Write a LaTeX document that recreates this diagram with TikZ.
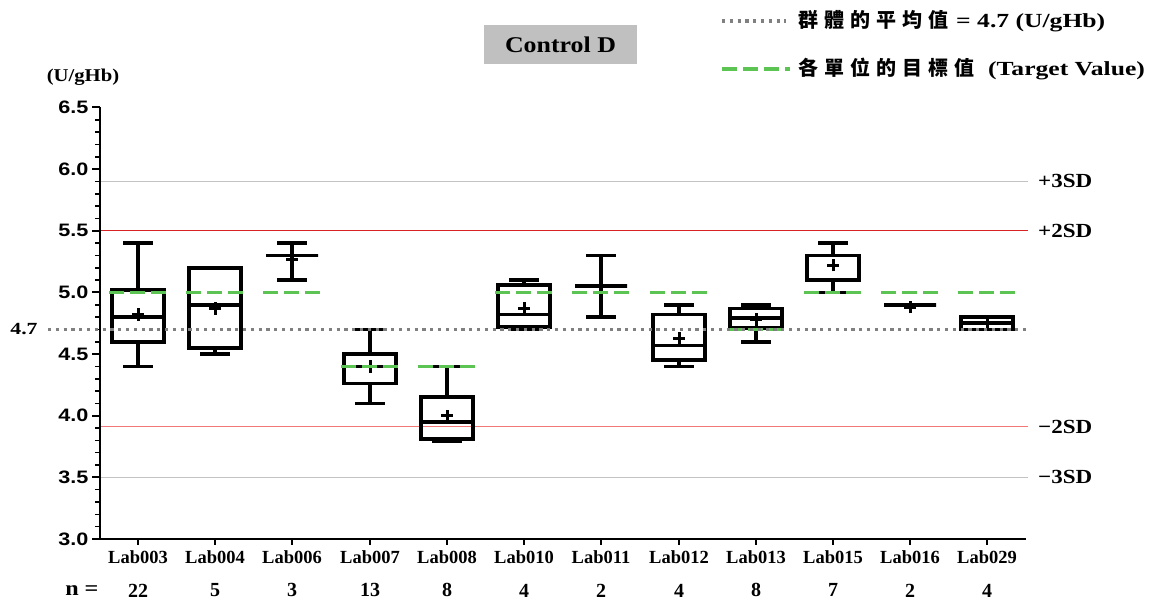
\documentclass[tikz,border=0pt]{standalone}
\usepackage{fontspec}
\setmainfont{Liberation Serif}
\setsansfont{Liberation Sans}
\newfontfamily\cjk[LetterSpace=30]{Noto Sans CJK TC}
\newfontfamily\stretchrm[FakeStretch=1.15]{Liberation Serif}
\newfontfamily\legendrm[FakeStretch=1.28]{Liberation Serif}
\newfontfamily\stretchsf[FakeStretch=1.2]{Liberation Sans}
\definecolor{targetgreen}{RGB}{92,196,82}
\definecolor{meangray}{RGB}{128,128,128}
\definecolor{sdgray}{RGB}{195,195,195}
\definecolor{sdred}{RGB}{215,35,35}
\definecolor{sdpink}{RGB}{240,120,120}
\definecolor{titlegray}{RGB}{192,192,192}
\begin{document}
\begin{tikzpicture}[x=1pt,y=1pt,
  axisline/.style={line width=2.6pt},
  boxline/.style={line width=3.6pt},
  targetline/.style={targetgreen,line width=3.4pt,dash pattern=on 15pt off 6pt},
  meanline/.style={meangray,line width=3.2pt,dash pattern=on 3.2pt off 4.6pt},
  sdline/.style={line width=0.9pt},
  ticklabel/.style={font=\stretchsf\bfseries\fontsize{18}{18}\selectfont,anchor=east,inner sep=0pt},
  lablabel/.style={font=\bfseries\fontsize{18.5}{18.5}\selectfont,inner sep=0pt},
  nlabel/.style={font=\bfseries\fontsize{20}{20}\selectfont,inner sep=0pt},
  sdlabel/.style={font=\stretchrm\bfseries\fontsize{20}{20}\selectfont,anchor=west,inner sep=0pt},
  legendtext/.style={font=\legendrm\bfseries\fontsize{20}{20}\selectfont,anchor=west,inner sep=0pt},
  titlebox/.style={fill=titlegray,minimum width=153pt,minimum height=39pt,inner sep=0pt,
    font=\stretchrm\bfseries\fontsize{22.5}{22.5}\selectfont}]
   \newcommand{\meanMark}[2]{
        \draw[line width=3pt] (#1-6,#2) -- (#1+6,#2) (#1,#2-0.05) -- (#1,#2+0.05);
    }
\useasboundingbox (0,0) rectangle (1158,600);

% title and legend
\node[titlebox] (title) at (560.5,555.5) {Control D};
\coordinate (legmeanA) at (722,579);
\coordinate (legmeanB) at (786,579);
\draw[meanline] (legmeanA) -- (legmeanB);
\node[legendtext] (legmean) at (798,579) {{\cjk 群體的平均值}\hspace{8pt}= 4.7 (U/gHb)};
\coordinate (legtargetA) at (722,531);
\coordinate (legtargetB) at (790,531);
\draw[targetline] (legtargetA) -- (legtargetB);
\node[legendtext] (legtarget) at (798,531) {{\cjk 各單位的目標值}\hspace{14pt}(Target Value)};
\node[font=\stretchrm\bfseries\fontsize{18}{18}\selectfont,inner sep=0pt] (unit) at (83,523) {(U/gHb)};

\begin{scope}[y=123.3pt,yshift=-308.9pt]
  % SD lines
  \draw[sdline,sdgray] (100,5.9) -- (1028,5.9);
  \draw[sdline,sdred] (100,5.5) -- (1028,5.5);
  \draw[sdline,sdpink] (100,3.91) -- (1028,3.91);
  \draw[sdline,sdgray] (100,3.5) -- (1028,3.5);
  \node[sdlabel] (p3sd) at (1038,5.9) {+3SD};
  \node[sdlabel] (p2sd) at (1038,5.5) {+2SD};
  \node[sdlabel] (m2sd) at (1038,3.91) {−2SD};
  \node[sdlabel] (m3sd) at (1038,3.5) {−3SD};

  % axes
  \foreach \v in {3.1,3.2,...,6.45}
    \draw[line width=1.6pt] (95,\v) -- (100,\v);
  \foreach \v in {3.0,3.5,4.0,4.5,5.0,5.5,6.0,6.5}{
    \draw[line width=2pt] (92,\v) -- (100,\v);
    \node[ticklabel] (tick\v) at (88.5,\v) {\v};
  }
  \draw[axisline] (100,6.5) -- (100,3.0) -- (1026,3.0);
  \node[nlabel,font=\stretchrm\bfseries\fontsize{21}{21}\selectfont] (nrow) at (82,2.583) {n\;=};

  % boxes
  \foreach \xc/\lo/\qa/\md/\qc/\hi/\mn/\lab/\n in {
      138/4.4/4.6/4.8/5.02/5.4/4.82/Lab003/22,
      215/4.5/4.55/4.9/5.2/5.2/4.87/Lab004/5,
      292/5.1/5.3/5.3/5.3/5.4/5.27/Lab006/3,
      370/4.1/4.26/4.4/4.5/4.7/4.4/Lab007/13,
      447/3.79/3.81/3.95/4.15/4.4/4.0/Lab008/8,
      524/4.7/4.72/4.82/5.06/5.1/4.87/Lab010/4,
      601/4.8/5.05/5.05/5.05/5.3/5.05/Lab011/2,
      679/4.4/4.45/4.57/4.82/4.9/4.63/Lab012/4,
      756/4.6/4.71/4.79/4.87/4.9/4.78/Lab013/8,
      833/5.0/5.1/5.3/5.3/5.4/5.22/Lab015/7,
      910/4.9/4.9/4.9/4.9/4.9/4.88/Lab016/2,
      987/4.7/4.7/4.75/4.8/4.8/4.75/Lab029/4}{
    \draw[line width=2pt] (\xc,3.0) -- (\xc,2.95);
    \draw[boxline] (\xc,\lo) -- (\xc,\qa) (\xc,\qc) -- (\xc,\hi);
    \draw[boxline] (\xc-15,\lo) -- (\xc+15,\lo) (\xc-15,\hi) -- (\xc+15,\hi);
    \draw[boxline] (\xc-26,\qa) rectangle (\xc+26,\qc);
    \draw[boxline] (\xc-26,\md) -- (\xc+26,\md);
    \meanMark{\xc}{\mn}
    \node[lablabel] (\lab) at (\xc,2.85) {\lab};
    \node[nlabel] (n\lab) at (\xc,2.583) {\n};
  }

  % target values
  \foreach \xc/\tg in {138/5.0,215/5.0,292/5.0,370/4.4,447/4.4,524/5.0,
      601/5.0,679/5.0,756/4.7,833/5.0,910/5.0,987/5.0}
    \draw[targetline] (\xc-29,\tg) -- (\xc+29,\tg);

  % group mean
  \draw[meanline] (48,4.7) -- (1028,4.7);
  \node[font=\legendrm\bfseries\fontsize{17}{17}\selectfont,inner sep=0pt] (meanval) at (24,4.7) {4.7};
\end{scope}
\end{tikzpicture}
\end{document}
